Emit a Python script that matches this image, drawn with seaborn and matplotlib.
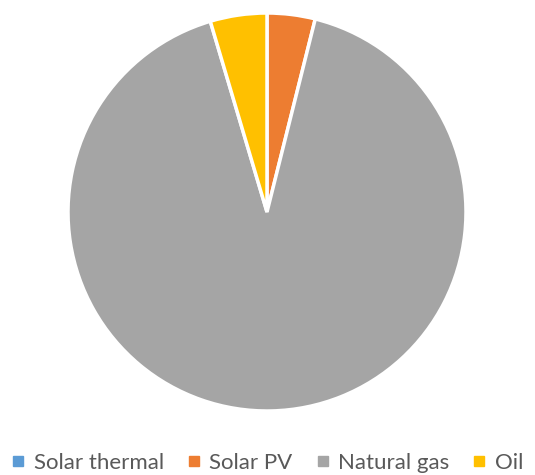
import matplotlib
matplotlib.use("Agg")
import matplotlib.pyplot as plt
import seaborn as sns
from matplotlib.lines import Line2D

# Energy sources share
sources = ["Solar thermal", "Solar PV", "Natural gas", "Oil"]
shares = [0.0, 3.9, 91.5, 4.6]
colors = ["#5B9BD5", "#ED7D31", "#A5A5A5", "#FFC000"]

sns.set_theme(style="white")
plt.rcParams['font.family'] = ['Lato', 'DejaVu Sans']

fig = plt.figure(figsize=(5.35, 4.75), dpi=100)
cx, cy, r = 267, 212, 199
ax = fig.add_axes([(cx - r) / 535, (475 - cy - r) / 475, 2 * r / 535, 2 * r / 475])

pal = sns.color_palette(colors)
ax.pie(shares, colors=pal, startangle=90, counterclock=False,
       wedgeprops=dict(edgecolor="white", linewidth=2.5))
ax.set_xlim(-1, 1)
ax.set_ylim(-1, 1)
ax.set_aspect("equal")
ax.axis("off")

# Legend at the bottom
handles = [Line2D([0], [0], marker="s", linestyle="", markersize=6.5,
                  markerfacecolor=c, markeredgecolor=c) for c in pal]
fig.legend(handles, sources, loc="lower left", bbox_to_anchor=(-0.014, -0.038),
           ncol=4, frameon=False, fontsize=16, handlelength=0.5,
           handletextpad=0.45, columnspacing=1.1, labelcolor="#595959")

fig.savefig("out.png", dpi=100)
